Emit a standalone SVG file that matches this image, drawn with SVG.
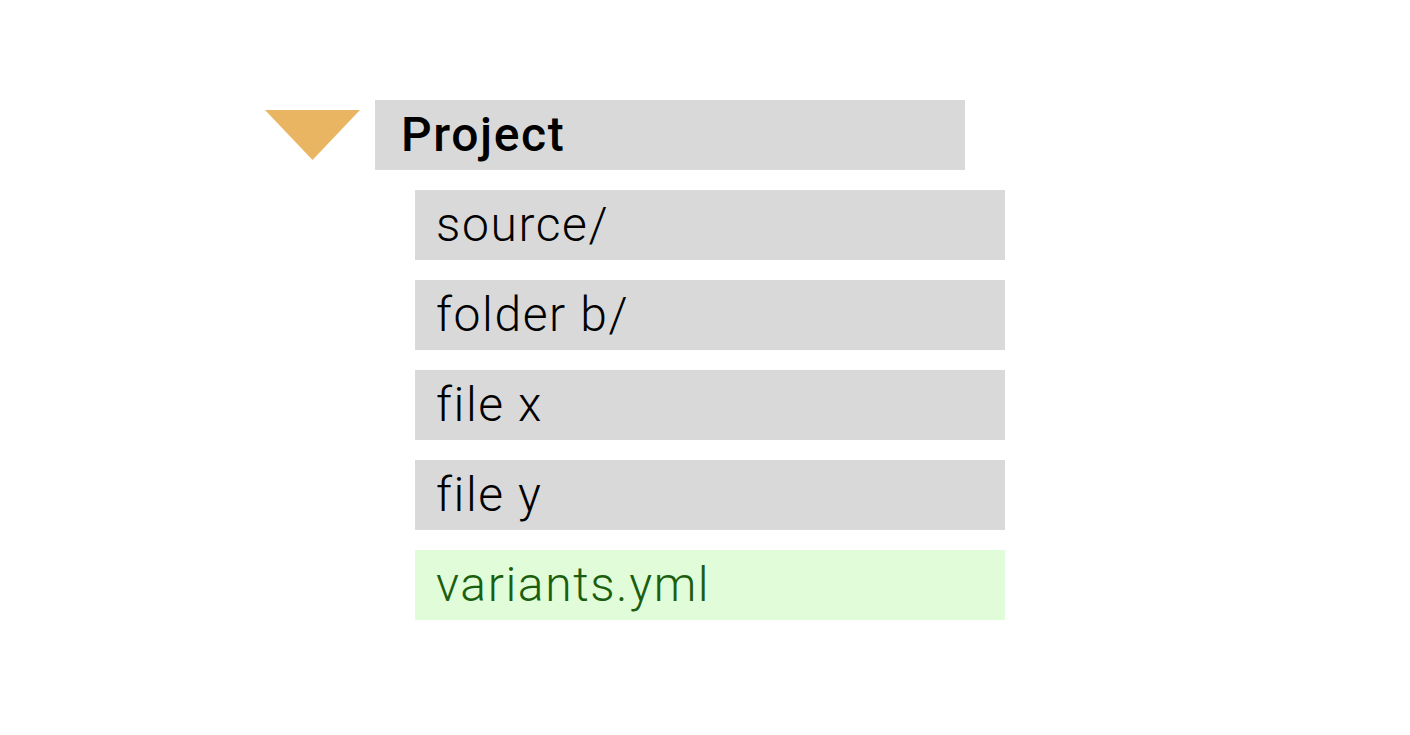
<svg xmlns="http://www.w3.org/2000/svg" width="1410" height="735" viewBox="0 0 1410 735">
  <style>
    .box { fill: #d9d9d9; }
    .green { fill: #e0fcd8; }
    .label { font-family: Roboto, "Liberation Sans", sans-serif; font-size: 48px; font-weight: 300; letter-spacing: 1.6px; fill: #000000; }
    .title { font-family: Roboto, "Liberation Sans", sans-serif; font-size: 48px; font-weight: 500; letter-spacing: 1.6px; fill: #000000; }
    .glabel { font-family: Roboto, "Liberation Sans", sans-serif; font-size: 48px; font-weight: 300; letter-spacing: 1.6px; fill: #1c5e0f; }
  </style>
  <rect width="1410" height="735" fill="#ffffff"/>
  <g id="toggle">
    <polygon points="265,110 360,110 312.5,160" fill="#eab562"/>
  </g>
  <g id="project">
    <rect class="box" x="375" y="100" width="590" height="70"/>
    <text class="title" x="401" y="151">Project</text>
  </g>
  <g id="source">
    <rect class="box" x="415" y="190" width="590" height="70"/>
    <text class="label" x="436" y="241">source/</text>
  </g>
  <g id="folder-b">
    <rect class="box" x="415" y="280" width="590" height="70"/>
    <text class="label" x="436" y="331">folder b/</text>
  </g>
  <g id="file-x">
    <rect class="box" x="415" y="370" width="590" height="70"/>
    <text class="label" x="436" y="421">file x</text>
  </g>
  <g id="file-y">
    <rect class="box" x="415" y="460" width="590" height="70"/>
    <text class="label" x="436" y="511">file y</text>
  </g>
  <g id="variants">
    <rect class="green" x="415" y="550" width="590" height="70"/>
    <text class="glabel" x="436" y="601">variants.yml</text>
  </g>
  <g id="connectors"/>
</svg>
